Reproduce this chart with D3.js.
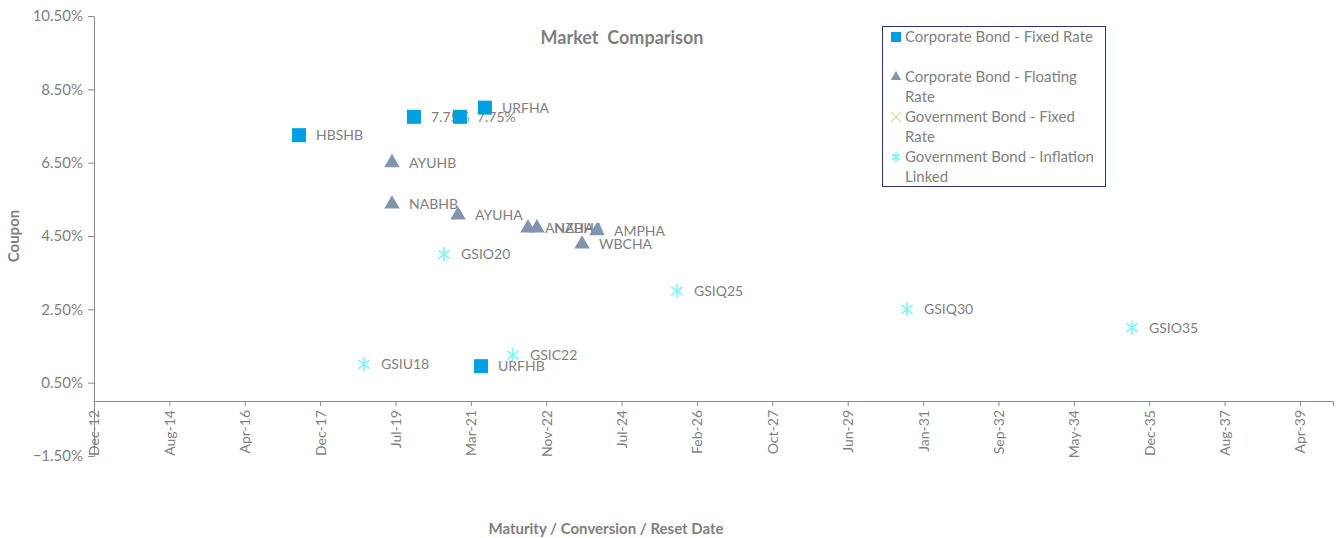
<!DOCTYPE html>
<html>
<head>
<meta charset="utf-8">
<script src="https://cdn.jsdelivr.net/npm/d3@7"></script>
<style>
  html, body { margin: 0; padding: 0; background: #fff; }
  svg { display: block; font-family: Lato, "Open Sans", sans-serif; }
</style>
</head>
<body>
<svg id="chart" width="1342" height="538"></svg>
<script>
// ---------------- DATA ----------------
const corpFixedNames   = ["HBSHB", "7.75%", "7.75%", "URFHA", "URFHB"];
const corpFixedDates   = ["2017-06-09", "2019-12-11", "2020-12-11", "2021-06-28", "2021-05-28"];
const corpFixedCoupons = [7.25, 7.75, 7.75, 8.0, 0.95];

const corpFloatNames   = ["AYUHB", "NABHB", "AYUHA", "ANZHA", "NABHA", "AMPHA", "WBCHA"];
const corpFloatDates   = ["2019-06-19", "2019-06-19", "2020-11-26", "2022-06-06", "2022-08-16", "2023-12-07", "2023-08-10"];
const corpFloatCoupons = [6.5, 5.37, 5.07, 4.72, 4.72, 4.64, 4.28];

const govFixedNames   = [];
const govFixedDates   = [];
const govFixedCoupons = [];

const govInflNames   = ["GSIU18", "GSIO20", "GSIC22", "GSIQ25", "GSIQ30", "GSIO35"];
const govInflDates   = ["2018-11-08", "2020-08-07", "2022-02-06", "2025-09-04", "2030-09-09", "2035-08-05"];
const govInflCoupons = [1.0, 4.0, 1.25, 3.0, 2.5, 2.0];

const seriesNames = ["Corporate Bond - Fixed Rate", "Corporate Bond - Floating Rate", "Government Bond - Fixed Rate", "Government Bond - Inflation Linked"];
const legendLines = [["Corporate Bond - Fixed Rate"], ["Corporate Bond - Floating", "Rate"], ["Government Bond - Fixed", "Rate"], ["Government Bond - Inflation", "Linked"]];

const xTickLabels = ["Dec-12","Aug-14","Apr-16","Dec-17","Jul-19","Mar-21","Nov-22","Jul-24","Feb-26","Oct-27","Jun-29","Jan-31","Sep-32","May-34","Dec-35","Aug-37","Apr-39"];
const yTickValues = [-1.5, 0.5, 2.5, 4.5, 6.5, 8.5, 10.5];

const titleText = "Market  Comparison";
const xTitle = "Maturity / Conversion / Reset Date";
const yTitle = "Coupon";

// ---------------- LAYOUT ----------------
const parse = d3.timeParse("%Y-%m-%d");
const xMin = parse("2012-12-20");
const xMax = d3.timeDay.offset(xMin, 9863);
const tickStepDays = 600;

const plot = { left: 94, right: 1333, top: 16, bottom: 456 };
const x = d3.scaleTime().domain([xMin, xMax]).range([plot.left, plot.right]);
const y = d3.scaleLinear().domain([-1.5, 10.5]).range([plot.bottom, plot.top]);

const colors = {
  fixed: "#00A0E0",
  float: "#8196AE",
  govFixed: "#E8DAB2",
  infl: "#7CF5F5",
  axis: "#8C8C8C",
  text: "#7F7F7F",
  legendBorder: "#1F3A68"
};

const svg = d3.select("#chart");
const labelFont = 14;

// Y axis
const yAxis = d3.axisLeft(y)
  .tickValues(yTickValues)
  .tickFormat(d => d3.format(".2f")(d) + "%")
  .tickSizeOuter(0)
  .tickSize(6)
  .tickPadding(5);
const yg = svg.append("g").attr("transform", `translate(${plot.left},0)`).call(yAxis);
yg.select(".domain").attr("stroke", colors.axis);
yg.selectAll(".tick line").attr("stroke", colors.axis);
yg.selectAll(".tick text").attr("fill", colors.text).style("font-size", "15px").style("font-family", "Lato, sans-serif");

// X axis at y = 0
const xTickValues = d3.range(xTickLabels.length).map(k => d3.timeDay.offset(xMin, k * tickStepDays));
const xAxis = d3.axisBottom(x)
  .tickValues(xTickValues)
  .tickFormat((d, i) => xTickLabels[i])
  .tickSizeOuter(0)
  .tickSize(5);
const xg = svg.append("g").attr("transform", `translate(0,${y(0)})`).call(xAxis);
xg.select(".domain").attr("stroke", colors.axis);
xg.selectAll(".tick line").attr("stroke", colors.axis);
xg.selectAll(".tick text")
  .attr("fill", colors.text)
  .style("font-size", "14px")
  .style("font-family", "Lato, sans-serif")
  .attr("text-anchor", "end")
  .attr("transform", "rotate(-90)")
  .attr("x", -9)
  .attr("y", 0)
  .attr("dy", "0.35em");

// Titles
svg.append("text").attr("x", 622).attr("y", 44).attr("text-anchor", "middle")
  .attr("fill", colors.text).style("font-size", "18px").style("font-weight", "bold").style("white-space", "pre")
  .text(titleText);
svg.append("text").attr("x", 606).attr("y", 534).attr("text-anchor", "middle")
  .attr("fill", colors.text).style("font-size", "15px").style("font-weight", "bold")
  .text(xTitle);
svg.append("text").attr("transform", "translate(19,236) rotate(-90)").attr("text-anchor", "middle")
  .attr("fill", colors.text).style("font-size", "15px").style("font-weight", "bold")
  .text(yTitle);

// Marker paths
function starPath(r) {
  const a = r * 0.8, b = r * 0.6;
  return `M0,${-r}L0,${r}M${-a},${-b}L${a},${b}M${-a},${b}L${a},${-b}`;
}
function xPath(r) {
  return `M${-r},${-r}L${r},${r}M${-r},${r}L${r},${-r}`;
}

function build(names, dates, coupons) {
  return names.map((n, i) => ({ name: n, date: parse(dates[i]), v: coupons[i] }));
}
const series = [
  { key: "fixed", data: build(corpFixedNames, corpFixedDates, corpFixedCoupons) },
  { key: "float", data: build(corpFloatNames, corpFloatDates, corpFloatCoupons) },
  { key: "govFixed", data: build(govFixedNames, govFixedDates, govFixedCoupons) },
  { key: "infl", data: build(govInflNames, govInflDates, govInflCoupons) }
];

const marksG = svg.append("g");
function drawMarker(g, key, size) {
  if (key === "fixed") g.append("path").attr("d", d3.symbol().type(d3.symbolSquare).size(size * size)()).attr("fill", colors.fixed);
  else if (key === "float") g.append("path").attr("d", d3.symbol().type(d3.symbolTriangle).size(size * size * 0.46)()).attr("fill", colors.float);
  else if (key === "govFixed") g.append("path").attr("d", xPath(size / 2)).attr("stroke", colors.govFixed).attr("stroke-width", 1.5).attr("fill", "none");
  else g.append("path").attr("d", starPath(size / 2)).attr("stroke", colors.infl).attr("stroke-width", 1.6).attr("fill", "none");
}

series.forEach(s => {
  s.data.forEach(d => {
    const cx = x(d.date), cy = y(d.v);
    marksG.append("text").attr("x", cx + 17).attr("y", cy).attr("dy", "0.35em")
      .attr("fill", colors.text).style("font-size", labelFont + "px").text(d.name);
    const g = marksG.append("g").attr("transform", `translate(${cx},${cy})`);
    drawMarker(g, s.key, s.key === "float" ? 15 : 14);
  });
});

// Legend
const lg = svg.append("g");
lg.append("rect").attr("x", 882.5).attr("y", 26.5).attr("width", 223).attr("height", 160)
  .attr("fill", "#fff").attr("stroke", colors.legendBorder).attr("stroke-width", 1);
const lineStart = [0, 2, 4, 6];
const keys = ["fixed", "float", "govFixed", "infl"];
seriesNames.forEach((name, i) => {
  const baseY = 37 + lineStart[i] * 20;
  const g = lg.append("g").attr("transform", `translate(896,${baseY})`);
  drawMarker(g, keys[i], 10);
  legendLines[i].forEach((ln, j) => {
    lg.append("text").attr("x", 905).attr("y", baseY + j * 20).attr("dy", "0.35em")
      .attr("fill", colors.text).style("font-size", "15px").text(ln);
  });
});
</script>
</body>
</html>
